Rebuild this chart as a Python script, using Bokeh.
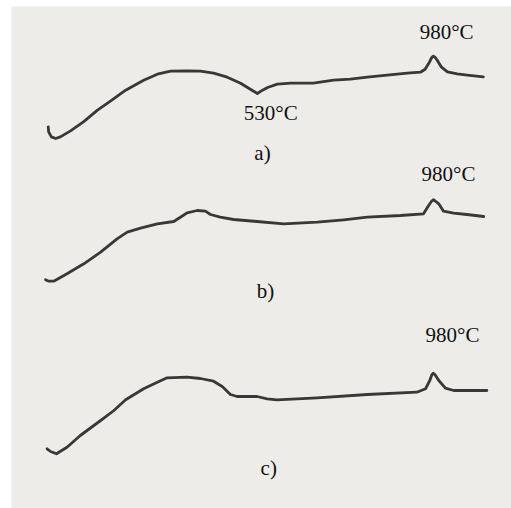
from bokeh.plotting import figure
from bokeh.models import Range1d
from bokeh.core.properties import value
from bokeh.embed import file_html
from bokeh.resources import INLINE

# DTA traces: temperature (°C) and signal (arbitrary units, relative to curve start)
temp_a = [-5, -4, 3, 14, 26, 52, 85, 121, 154, 193, 239, 274, 308, 351, 384, 418, 453, 487, 512,
          530, 543, 556, 581, 615, 673, 725, 768, 811, 862, 913, 947, 959, 970, 976, 980, 985, 990,
          1001, 1016, 1041, 1067, 1108]
sig_a = [11.6, 6.6, 1.6, 0, 1.6, 7.6, 16.6, 28.3, 37.3, 48.3, 58.3, 64.3, 67.3, 67.6, 67.3, 65.3,
         61.3, 55.3, 49.3, 45.0, 48.3, 51.0, 54.3, 55.3, 55.3, 58.3, 59.3, 61.3, 63.3, 65.3, 66.3,
         69.3, 76.3, 81.0, 82.3, 81.0, 78.3, 71.3, 66.6, 64.6, 63.3, 61.6]

temp_b = [-12, -4, 9, 43, 86, 129, 171, 197, 231, 274, 316, 333, 350, 376, 397, 410, 435, 469,
          529, 597, 683, 751, 811, 896, 955, 968, 976, 980, 985, 994, 1006, 1032, 1066, 1109]
sig_b = [1.4, 0, 0, 7.4, 17.4, 29.0, 42.4, 49.0, 53.0, 57.4, 59.7, 64.0, 68.4, 70.7, 70.0, 66.7,
         64.0, 61.7, 59.7, 57.4, 59.0, 61.4, 64.0, 65.7, 67.4, 75.7, 80.2, 81.4, 80.2, 77.4, 70.0,
         68.0, 66.7, 64.7]

temp_c = [-8, 1, 16, 43, 77, 129, 163, 193, 239, 274, 299, 350, 384, 418, 440, 461, 478, 529,
          555, 580, 683, 811, 938, 960, 971, 976, 980, 985, 994, 1011, 1032, 1117]
sig_c = [5.0, 2.3, 0, 6.6, 18.3, 33.3, 43.3, 54.0, 65.0, 71.6, 76.0, 76.6, 75.3, 72.6, 67.3, 59.3,
         57.3, 57.3, 55.0, 54.0, 56.0, 59.3, 61.6, 65.0, 73.3, 78.8, 80.6, 78.8, 73.3, 65.6, 63.3,
         63.3]

peak_temp = 980      # exothermic peak, all three samples
dip_temp_a = 530     # endothermic dip, sample a
panel_names = ["a)", "b)", "c)"]

# vertical placement of each trace and its annotations
offsets = [370.0, 227.3, 54.7]
peak_label_shift = [(34, 24), (39, 26), (49, 38)]
panel_label_pos = [(543, 356), (551, 218), (559, 41)]

p = figure(width=511, height=508, x_range=Range1d(-99, 1180), y_range=Range1d(0, 502),
           output_backend="svg", toolbar_location=None,
           x_axis_location=None, y_axis_location=None,
           min_border_left=11, min_border_top=6, min_border_right=0, min_border_bottom=0)
p.grid.visible = False
p.outline_line_color = None
p.background_fill_color = "#edece8"
p.border_fill_color = "white"

font = value("Liberation Serif")
text_kw = dict(text_font=font, text_font_size="21px", text_color="#101010",
               text_align="center", text_baseline="middle")

series = [(temp_a, sig_a), (temp_b, sig_b), (temp_c, sig_c)]
for (t, s), off, (dx, dy), (lx, ly), name in zip(series, offsets, peak_label_shift,
                                                  panel_label_pos, panel_names):
    ys = [v + off for v in s]
    p.line(t, ys, line_color="#383838", line_width=2.8, line_join="round", line_cap="round")
    peak_y = ys[t.index(peak_temp)]
    p.text(x=[peak_temp + dx], y=[peak_y + dy], text=[f"{peak_temp}°C"], **text_kw)
    p.text(x=[lx], y=[ly], text=[name], **text_kw)

dip_y = sig_a[temp_a.index(dip_temp_a)] + offsets[0]
p.text(x=[dip_temp_a + 34], y=[dip_y - 19], text=[f"{dip_temp_a}°C"], **text_kw)

open("out.html", "w").write(file_html(p, INLINE))
